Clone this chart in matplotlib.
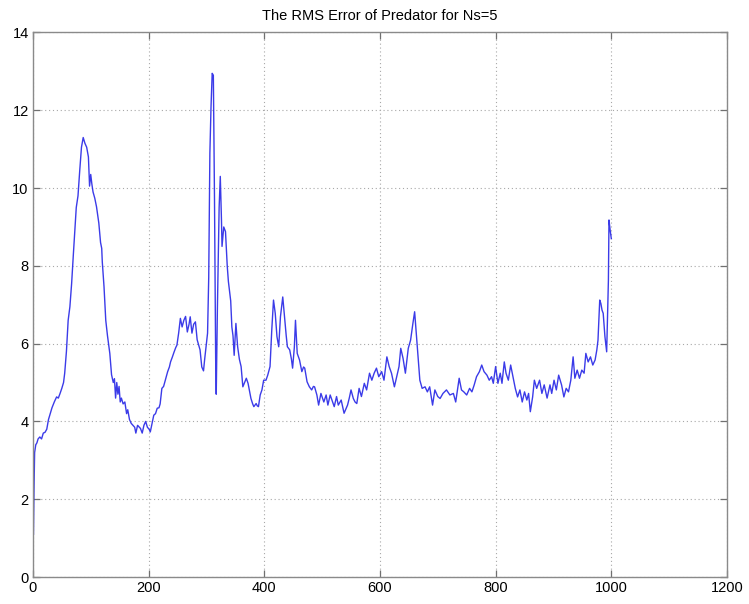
import matplotlib
matplotlib.use("Agg")
import matplotlib.pyplot as plt

# RMS error samples (time step, error)
steps = [
    1, 2, 3, 5, 7, 9, 12, 15, 18, 21, 24, 27, 30, 33, 37, 41, 44, 47, 50, 53,
    55, 58, 61, 64, 67, 70, 73, 75, 78, 81, 84, 87, 90, 93, 96, 98, 100, 102, 104, 107,
    110, 114, 117, 119, 120, 123, 126, 129, 133, 136, 139, 141, 143, 145, 147, 149, 151, 153, 156, 159,
    162, 164, 167, 170, 173, 176, 178, 181, 184, 186, 189, 192, 195, 198, 201, 203, 206, 209, 212, 215,
    218, 220, 223, 226, 229, 233, 236, 238, 241, 244, 247, 249, 252, 255, 258, 261, 264, 267, 270, 272,
    275, 278, 281, 284, 287, 289, 292, 295, 297, 300, 302, 304, 306, 308, 310, 312, 314, 316, 317, 319,
    322, 324, 326, 327, 330, 333, 336, 338, 342, 344, 346, 348, 351, 354, 357, 360, 363, 366, 369, 372,
    375, 377, 380, 382, 386, 388, 390, 393, 396, 399, 403, 406, 410, 413, 416, 419, 422, 425, 428, 432,
    435, 438, 440, 444, 447, 449, 452, 454, 457, 461, 465, 468, 470, 474, 478, 482, 485, 487, 491, 494,
    498, 503, 507, 510, 514, 517, 521, 525, 528, 533, 538, 544, 547, 550, 554, 557, 560, 564, 568, 573,
    577, 582, 586, 590, 594, 598, 603, 607, 612, 616, 620, 625, 629, 633, 636, 640, 644, 649, 653, 657,
    660, 662, 665, 669, 673, 678, 682, 686, 691, 695, 700, 704, 709, 715, 721, 727, 731, 737, 741, 745,
    750, 755, 759, 763, 767, 772, 776, 780, 785, 789, 793, 796, 800, 804, 808, 811, 815, 818, 822, 826,
    830, 834, 838, 842, 846, 850, 854, 857, 860, 864, 867, 871, 876, 880, 884, 889, 894, 897, 901, 905,
    909, 914, 918, 922, 926, 930, 934, 937, 941, 945, 949, 953, 956, 960, 964, 968, 972, 975, 977, 980,
    982, 984, 986, 989, 992, 995, 996, 998, 1000,
]
rms_error = [
    1.1, 2.3, 3.2, 3.4, 3.45, 3.55, 3.6, 3.55, 3.7, 3.72, 3.8, 4.05, 4.2, 4.35, 4.5, 4.63, 4.6, 4.72, 4.85, 5.0,
    5.24, 5.8, 6.6, 6.95, 7.55, 8.3, 9.0, 9.5, 9.8, 10.45, 11.05, 11.3, 11.15, 11.05, 10.8, 10.05, 10.35, 10.1, 9.9, 9.74,
    9.52, 9.1, 8.6, 8.45, 8.1, 7.46, 6.6, 6.2, 5.75, 5.2, 5.0, 5.1, 4.6, 5.0, 4.7, 4.9, 4.5, 4.6, 4.45, 4.5,
    4.2, 4.3, 4.05, 3.95, 3.9, 3.85, 3.7, 3.9, 3.85, 3.82, 3.7, 3.9, 4.0, 3.85, 3.8, 3.73, 3.95, 4.16, 4.2, 4.34,
    4.35, 4.45, 4.85, 4.9, 5.06, 5.28, 5.4, 5.53, 5.65, 5.78, 5.9, 5.96, 6.27, 6.65, 6.43, 6.6, 6.7, 6.3, 6.5, 6.69,
    6.27, 6.5, 6.56, 6.1, 5.95, 5.84, 5.4, 5.3, 5.6, 6.0, 6.27, 7.7, 10.9, 12.1, 12.95, 12.9, 9.7, 5.6, 4.7, 6.9,
    9.5, 10.3, 9.2, 8.5, 9.0, 8.88, 8.0, 7.6, 7.1, 6.43, 6.2, 5.7, 6.52, 5.92, 5.6, 5.41, 4.89, 5.0, 5.11, 4.98,
    4.75, 4.59, 4.45, 4.38, 4.46, 4.4, 4.38, 4.68, 4.81, 5.06, 5.06, 5.19, 5.41, 6.35, 7.12, 6.78, 6.18, 5.92, 6.69, 7.2,
    6.69, 6.2, 5.92, 5.84, 5.6, 5.37, 5.9, 6.6, 5.75, 5.58, 5.28, 5.4, 5.37, 5.02, 4.89, 4.81, 4.9, 4.89, 4.68, 4.42,
    4.72, 4.5, 4.68, 4.42, 4.68, 4.55, 4.38, 4.64, 4.42, 4.55, 4.21, 4.42, 4.6, 4.81, 4.59, 4.5, 4.46, 4.85, 4.64, 4.98,
    4.81, 5.24, 5.06, 5.24, 5.37, 5.15, 5.28, 5.06, 5.66, 5.41, 5.24, 4.89, 5.15, 5.41, 5.88, 5.62, 5.24, 5.88, 6.09, 6.52,
    6.82, 6.43, 5.84, 5.06, 4.85, 4.89, 4.76, 4.89, 4.42, 4.81, 4.64, 4.59, 4.72, 4.81, 4.68, 4.72, 4.5, 5.11, 4.81, 4.76,
    4.68, 4.85, 4.76, 4.94, 5.15, 5.28, 5.45, 5.28, 5.19, 5.06, 5.15, 4.98, 5.41, 4.98, 5.24, 4.98, 5.53, 5.24, 5.06, 5.45,
    5.15, 4.85, 4.63, 4.81, 4.5, 4.76, 4.55, 4.72, 4.25, 4.63, 5.06, 4.85, 5.06, 4.72, 4.94, 4.6, 4.94, 4.72, 5.06, 4.81,
    5.19, 4.94, 4.63, 4.85, 4.76, 5.06, 5.66, 5.11, 5.32, 5.11, 5.32, 5.24, 5.75, 5.53, 5.66, 5.45, 5.58, 5.84, 6.09, 7.12,
    7.03, 6.86, 6.78, 6.18, 5.79, 7.63, 9.18, 8.92, 8.7,
]

x_ticks = [0, 200, 400, 600, 800, 1000, 1200]
y_ticks = [0, 2, 4, 6, 8, 10, 12, 14]
title_text = "The RMS Error of Predator for Ns=5"

plt.rcParams["font.family"] = ["Liberation Sans", "DejaVu Sans"]

fig = plt.figure(figsize=(7.49, 6.04), dpi=100)
fig.patch.set_facecolor("white")
ax = fig.add_axes([0.0439, 0.0447, 0.9267, 0.9015])

ax.plot(steps, rms_error, color="#2626e6", linewidth=1.0, alpha=0.9)

ax.set_xlim(0, 1200)
ax.set_ylim(0, 14)
ax.set_xticks(x_ticks)
ax.set_yticks(y_ticks)
ax.set_xticklabels([str(t) for t in x_ticks])
ax.set_yticklabels([str(t) for t in y_ticks])

ax.grid(True, linestyle=(0, (1, 2.5)), color="#a8a8a8", linewidth=0.8)
ax.set_axisbelow(True)

for side in ax.spines.values():
    side.set_color("#8a8a8a")
    side.set_linewidth(1.0)

ax.tick_params(direction="in", length=5, width=0.9, color="#707070",
               labelsize=10.5, labelcolor="black", top=True, right=True,
               pad=3)

ax.set_title(title_text, fontsize=10.5, pad=9)

fig.savefig("out.png", dpi=100, facecolor="white")
